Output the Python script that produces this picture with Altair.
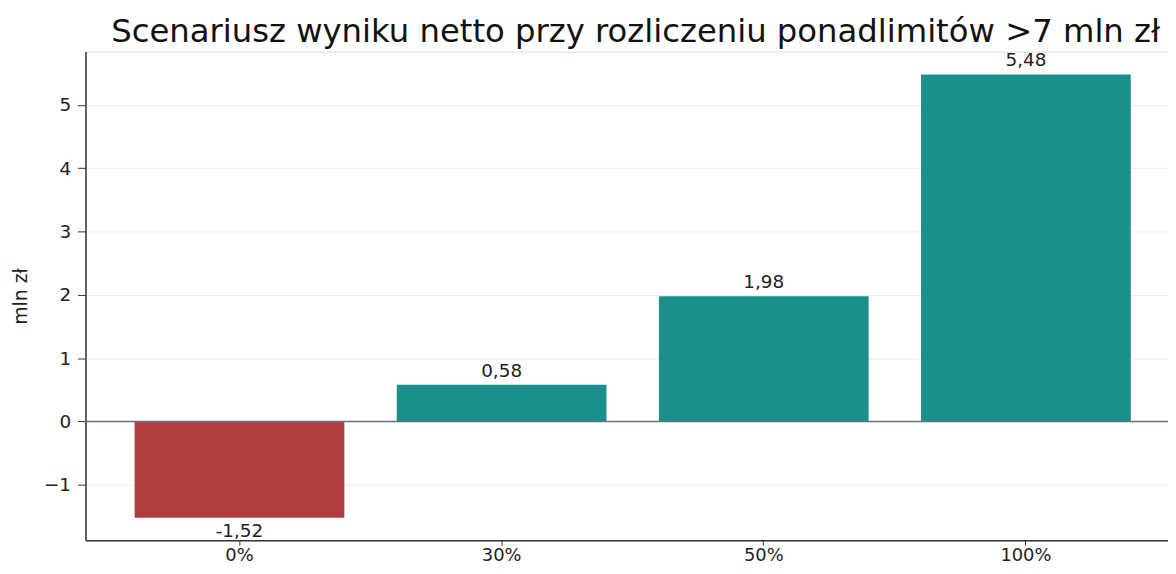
import altair as alt
import pandas as pd

categories = ["0%", "30%", "50%", "100%"]
values = [-1.52, 0.58, 1.98, 5.48]
labels = ["-1,52", "0,58", "1,98", "5,48"]
colors = ["#a72929", "#00847e", "#00847e", "#00847e"]

df = pd.DataFrame({"cat": categories, "val": values, "lab": labels, "col": colors})

FONT = "DejaVu Sans"

x = alt.X("cat:N", sort=categories, title=None,
          scale=alt.Scale(range=[0, 1102], paddingInner=0.2, paddingOuter=0.1875),
          axis=alt.Axis(labelAngle=0, labelFontSize=18, labelFont=FONT, labelColor="#222222",
                        domainColor="#333333", domainWidth=1.5, tickColor="#333333",
                        tickSize=5, labelPadding=1, grid=False))
y = alt.Y("val:Q", title="mln zł",
          scale=alt.Scale(domain=[-1.874, 5.84], nice=False, zero=False),
          axis=alt.Axis(values=[-1, 0, 1, 2, 3, 4, 5], format="d", labelFontSize=18.5,
                        labelFont=FONT, labelColor="#222222", titleFont=FONT,
                        titleFontSize=19, titleFontWeight="normal", titleColor="#222222",
                        titlePadding=13, domainColor="#333333", domainWidth=1.5,
                        tickColor="#333333", tickSize=8, labelPadding=7, grid=True,
                        gridColor="#ebebeb", gridOpacity=1))

bars = alt.Chart(df).mark_bar(opacity=0.9).encode(
    x=x, y=y, color=alt.Color("col:N", scale=None)
)

zero = alt.Chart(pd.DataFrame({"z": [0]})).mark_rule(color="#667380", strokeWidth=1.6).encode(
    y="z:Q"
)

text_pos = alt.Chart(df[df["val"] >= 0]).mark_text(
    baseline="bottom", dy=-4, fontSize=18.5, font=FONT, color="#222222"
).encode(x=alt.X("cat:N", sort=categories), y="val:Q", text="lab:N")

text_neg = alt.Chart(df[df["val"] < 0]).mark_text(
    baseline="top", dy=4, fontSize=18.5, font=FONT, color="#222222"
).encode(x=alt.X("cat:N", sort=categories), y="val:Q", text="lab:N")

chart = alt.layer(bars, zero, text_pos, text_neg).properties(
    width=1090, height=492,
    autosize=alt.AutoSizeParams(type="none"),
    padding={"left": 78, "top": 42, "right": 0, "bottom": 24},
    title=alt.TitleParams("Scenariusz wyniku netto przy rozliczeniu ponadlimitów >7 mln zł",
                          fontSize=32.5, font=FONT, fontWeight="normal", color="#111111",
                          anchor="middle", offset=3, dx=9),
).configure_view(stroke=None).configure(background="white")

chart.save("out.html", embed_options={"renderer": "svg", "actions": False})
